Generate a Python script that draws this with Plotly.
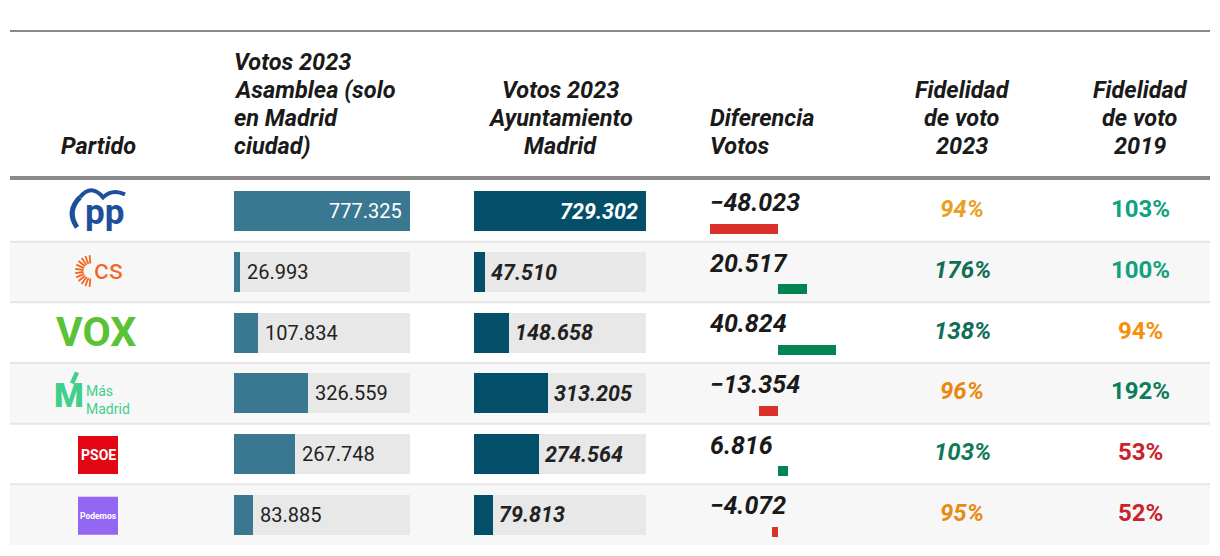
import math
import plotly.graph_objects as go

# ---------------- data ----------------
PARTIDOS = ["PP", "Cs", "Vox", "Más Madrid", "PSOE", "Podemos"]
VOTOS_ASAMBLEA = [777325, 26993, 107834, 326559, 267748, 83885]
VOTOS_AYUNTAMIENTO = [729302, 47510, 148658, 313205, 274564, 79813]
DIFERENCIA = [-48023, 20517, 40824, -13354, 6816, -4072]
FIDELIDAD_2023 = [94, 176, 138, 96, 103, 95]
FIDELIDAD_2019 = [103, 100, 94, 192, 53, 52]

HEADER_PARTIDO = ["Partido"]
HEADER_ASAMBLEA = ["Votos 2023", "Asamblea (solo", "en Madrid", "ciudad)"]
HEADER_AYTO = ["Votos 2023", "Ayuntamiento", "Madrid"]
HEADER_DIF = ["Diferencia", "Votos"]
HEADER_F23 = ["Fidelidad", "de voto", "2023"]
HEADER_F19 = ["Fidelidad", "de voto", "2019"]

# ---------------- styles ----------------
FID23_COLORS = ["#e89f24", "#0f6e55", "#0f6e55", "#e8890f", "#11795b", "#e98b12"]
FID19_COLORS = ["#11a081", "#11a081", "#f5900b", "#0c7d5b", "#c9232b", "#c9232b"]
C_ASAMBLEA = "#3a7892"
C_AYTO = "#034f69"
C_TRACK = "#e8e8e8"
C_NEG = "#d9322a"
C_POS = "#008552"
TXT = "#1a1a1a"
FONT = "Roboto"

W, H = 1220, 556
ROW_TOP, ROW_BOT = 181, 545
N = len(PARTIDOS)
ROW_H = (ROW_BOT - ROW_TOP) / N


def px(x):
    return x / W


def py(y):
    return 1 - y / H


def row_cy(i):
    return ROW_TOP + ROW_H * (i + 0.5)


def fmt(v):
    s = f"{abs(v):,}".replace(",", ".")
    return ("−" if v < 0 else "") + s


rows = list(range(N))
fig = go.Figure()

max_asa = max(VOTOS_ASAMBLEA)
max_ayt = max(VOTOS_AYUNTAMIENTO)
max_dif = max(abs(v) for v in DIFERENCIA)
BAR_W = 40 / ROW_H

# tracks + bars
fig.add_trace(go.Bar(y=rows, x=[max_asa] * N, orientation="h", width=BAR_W,
                     marker=dict(color=C_TRACK, line=dict(width=0)),
                     xaxis="x", yaxis="y", hoverinfo="skip", showlegend=False))
fig.add_trace(go.Bar(y=rows, x=VOTOS_ASAMBLEA, orientation="h", width=BAR_W,
                     marker=dict(color=C_ASAMBLEA, line=dict(width=0)),
                     xaxis="x", yaxis="y", hoverinfo="skip", showlegend=False))
fig.add_trace(go.Bar(y=rows, x=[max_ayt] * N, orientation="h", width=BAR_W,
                     marker=dict(color=C_TRACK, line=dict(width=0)),
                     xaxis="x2", yaxis="y", hoverinfo="skip", showlegend=False))
fig.add_trace(go.Bar(y=rows, x=VOTOS_AYUNTAMIENTO, orientation="h", width=BAR_W,
                     marker=dict(color=C_AYTO, line=dict(width=0)),
                     xaxis="x2", yaxis="y", hoverinfo="skip", showlegend=False))
DIF_W = 10 / ROW_H
fig.add_trace(go.Bar(y=rows, x=DIFERENCIA, orientation="h", width=DIF_W,
                     offset=12.3 / ROW_H,
                     marker=dict(color=[C_NEG if v < 0 else C_POS for v in DIFERENCIA],
                                 line=dict(width=0)),
                     xaxis="x3", yaxis="y", hoverinfo="skip", showlegend=False))

ann = []
shapes = []

# row backgrounds and separators
for i in rows:
    if i % 2 == 1:
        shapes.append(dict(type="rect", xref="paper", yref="y", x0=px(10), x1=px(1210),
                           y0=i - 0.5, y1=i + 0.5, fillcolor="#f7f7f7",
                           line=dict(width=0), layer="below"))
for i in rows[:-1]:
    shapes.append(dict(type="line", xref="paper", yref="y", x0=px(10), x1=px(1210),
                       y0=i + 0.5, y1=i + 0.5, line=dict(color="#e6e6e6", width=2),
                       layer="below"))
# header rules
shapes.append(dict(type="line", xref="paper", yref="paper", x0=px(10), x1=px(1210),
                   y0=py(31), y1=py(31), line=dict(color="#8a8a8a", width=2)))
shapes.append(dict(type="line", xref="paper", yref="paper", x0=px(10), x1=px(1210),
                   y0=py(178), y1=py(178), line=dict(color="#8a8a8a", width=4)))

# headers
HF = dict(family=FONT, size=23.5, color=TXT, weight=700, style="italic")
LINE_SP = 28


def header(lines, x, anchor):
    n = len(lines)
    for k, t in enumerate(lines):
        yc = 146 - LINE_SP * (n - 1 - k)
        ann.append(dict(text=t, x=px(x), y=py(yc), xref="paper", yref="paper",
                        xanchor=anchor, yanchor="middle", showarrow=False, font=HF))


header(HEADER_PARTIDO, 98, "center")
header(HEADER_ASAMBLEA, 232, "left")
header(HEADER_AYTO, 560, "center")
header(HEADER_DIF, 708, "left")
header(HEADER_F23, 962, "center")
header(HEADER_F19, 1140, "center")

# bar labels
for i, v in enumerate(VOTOS_ASAMBLEA):
    inside = v / max_asa > 0.8
    ann.append(dict(text=fmt(v), x=v, y=i, xref="x", yref="y",
                    xanchor="right" if inside else "left", xshift=-6 if inside else 5,
                    yanchor="middle", showarrow=False,
                    font=dict(family=FONT, size=20, color="white" if inside else "#222222")))
for i, v in enumerate(VOTOS_AYUNTAMIENTO):
    inside = v / max_ayt > 0.8
    ann.append(dict(text=fmt(v), x=v, y=i, xref="x2", yref="y",
                    xanchor="right" if inside else "left", xshift=-6 if inside else 4,
                    yanchor="middle", showarrow=False,
                    font=dict(family=FONT, size=21.5, weight=700, style="italic",
                              color="white" if inside else "#222222")))
for i, v in enumerate(DIFERENCIA):
    ann.append(dict(text=fmt(v), x=px(708), y=i, xref="paper", yref="y",
                    xanchor="left", yanchor="middle", yshift=9, showarrow=False,
                    font=dict(family=FONT, size=25, weight=700, style="italic", color=TXT)))
for i, v in enumerate(FIDELIDAD_2023):
    ann.append(dict(text=f"{v}%", x=px(962), y=i, xref="paper", yref="y",
                    xanchor="center", yanchor="middle", yshift=2, showarrow=False,
                    font=dict(family=FONT, size=24, weight=700, style="italic",
                              color=FID23_COLORS[i])))
for i, v in enumerate(FIDELIDAD_2019):
    ann.append(dict(text=f"{v}%", x=px(1140), y=i, xref="paper", yref="y",
                    xanchor="center", yanchor="middle", yshift=2, showarrow=False,
                    font=dict(family=FONT, size=24, weight=700, color=FID19_COLORS[i])))


# ---------------- party logos (decorative) ----------------
def ptxt(text, x, y, size, color, weight=400, anchor="center"):
    ann.append(dict(text=text, x=px(x), y=py(y), xref="paper", yref="paper",
                    xanchor=anchor, yanchor="middle", showarrow=False, align="left",
                    font=dict(family=FONT, size=size, color=color, weight=weight)))


def ppath(pts_cmd, color, width):
    shapes.append(dict(type="path", xref="paper", yref="paper", path=pts_cmd,
                       line=dict(color=color, width=width)))


def P(x, y):
    return f"{px(x):.5f},{py(y):.5f}"


# PP
c = row_cy(0)
PPB = "#1d4f9d"
ptxt("pp", 104, c + 1, 35, PPB, 700)
ppath(f"M{P(80, c - 14)} Q{P(66, c)} {P(77, c + 16)}", PPB, 5)
ppath(f"M{P(80, c - 14)} Q{P(91, c - 28)} {P(103, c - 14)} Q{P(112, c - 23)} {P(125, c - 17)}", PPB, 4)

# Cs
c = row_cy(1)
CSO = "#f4641f"
cx0, cy0 = 91, c - 1
for k in range(12):
    a = math.radians(95 + 170 * k / 11)
    x1, y1 = cx0 + 7.5 * math.cos(a), cy0 - 7.5 * math.sin(a)
    x2, y2 = cx0 + 16 * math.cos(a), cy0 - 16 * math.sin(a)
    ppath(f"M{P(x1, y1)} L{P(x2, y2)}", CSO, 1.8)
ptxt("cs", 108, c - 3, 28, CSO, 400)

# VOX
c = row_cy(2)
ptxt("VOX", 96, c - 1, 41, "#5ac235", 700)

# Más Madrid
c = row_cy(3)
MMG = "#40cf8c"
ptxt("M", 69, c + 2, 34, MMG, 900)
ppath(f"M{P(72, c - 10)} L{P(77, c - 21)}", MMG, 4.5)
ptxt("Más<br>Madrid", 84, c + 6.5, 14, MMG, 400, "left")

# PSOE
c = row_cy(4)
shapes.append(dict(type="rect", xref="paper", yref="paper", x0=px(78), x1=px(118),
                   y0=py(c - 18), y1=py(c + 20), fillcolor="#e30613", line=dict(width=0)))
ptxt("PSOE", 98, c + 1, 14, "white", 700)

# Podemos
c = row_cy(5)
shapes.append(dict(type="rect", xref="paper", yref="paper", x0=px(78), x1=px(118),
                   y0=py(c - 18), y1=py(c + 20), fillcolor="#9467f2", line=dict(width=0)))
ptxt("Podemos", 98, c + 1, 8.5, "white", 700)

ax_common = dict(showgrid=False, zeroline=False, showticklabels=False, showline=False,
                 ticks="", fixedrange=True)
fig.update_layout(
    width=W, height=H,
    margin=dict(l=0, r=0, t=0, b=0),
    paper_bgcolor="white", plot_bgcolor="rgba(0,0,0,0)",
    barmode="overlay", bargap=0,
    xaxis=dict(domain=[px(234), px(410)], range=[0, max_asa], anchor="y", **ax_common),
    xaxis2=dict(domain=[px(474), px(646)], range=[0, max_ayt], anchor="y", **ax_common),
    xaxis3=dict(domain=[px(710), px(846)], range=[-max_dif, max_dif], anchor="y", **ax_common),
    yaxis=dict(domain=[py(ROW_BOT), py(ROW_TOP)], range=[N - 0.5, -0.5], **ax_common),
    annotations=ann,
    shapes=shapes,
)

fig.write_html("out.html", config={"displayModeBar": False},
               post_script="document.body.style.margin='0px';")
